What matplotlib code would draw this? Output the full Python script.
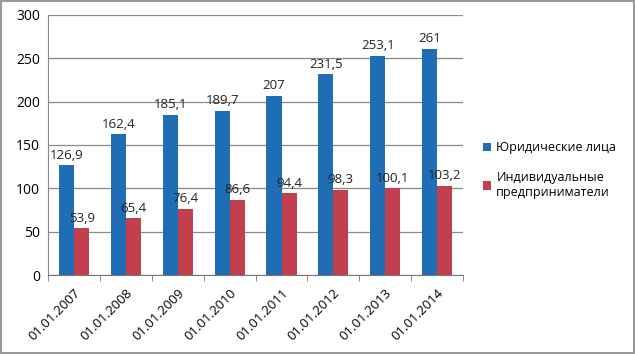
import numpy as np
import matplotlib
matplotlib.use("Agg")
import matplotlib.pyplot as plt
from matplotlib.patches import Rectangle

# ── Data ─────────────────────────────────────────────────────────────────────
dates = ["01.01.2007", "01.01.2008", "01.01.2009", "01.01.2010",
         "01.01.2011", "01.01.2012", "01.01.2013", "01.01.2014"]
legal = [126.9, 162.4, 185.1, 189.7, 207, 231.5, 253.1, 261]
individual = [53.9, 65.4, 76.4, 86.6, 94.4, 98.3, 100.1, 103.2]
legal_labels = ["126,9", "162,4", "185,1", "189,7", "207", "231,5", "253,1", "261"]
indiv_labels = ["53,9", "65,4", "76,4", "86,6", "94,4", "98,3", "100,1", "103,2"]

BLUE = "#1f6db5"
RED = "#c2404e"

plt.rcParams["font.family"] = ["Open Sans", "DejaVu Sans"]

fig = plt.figure(figsize=(6.35, 3.54), dpi=100)
ax = fig.add_axes([0.076, 0.223, 0.653, 0.735])

x = np.arange(len(dates))
w = 0.29
b1 = ax.bar(x - w / 2, legal, w, color=BLUE, label="Юридические лица", zorder=3)
b2 = ax.bar(x + w / 2, individual, w, color=RED,
            label="Индивидуальные\nпредприниматели", zorder=3)

for xi, v, t in zip(x, legal, legal_labels):
    ax.text(xi - w / 2, v + 4, t, ha="center", va="bottom", fontsize=9.5,
            color="#222222", zorder=4)
for xi, v, t in zip(x, individual, indiv_labels):
    ax.text(xi + w / 2, v + 4, t, ha="center", va="bottom", fontsize=9.5,
            color="#222222", zorder=4)

ax.set_xlim(-0.5, len(dates) - 0.5)
ax.set_ylim(0, 300)
ax.set_yticks(range(0, 301, 50))
ax.yaxis.grid(True, color="#8a8a8a", linewidth=0.9, zorder=0)
ax.tick_params(axis="y", length=0, labelsize=10, pad=6)

# category labels in the middle, tick marks between categories
ax.set_xticks(x)
ax.set_xticklabels(dates, rotation=45, ha="right", rotation_mode="anchor",
                   fontsize=9.5)
ax.tick_params(axis="x", which="major", length=0, pad=8)
ax.set_xticks(np.arange(-0.5, len(dates), 1), minor=True)
ax.tick_params(axis="x", which="minor", length=4, color="#777777",
               direction="out")

for s in ["top", "right"]:
    ax.spines[s].set_visible(False)
ax.spines["left"].set_color("#888888")
ax.spines["bottom"].set_color("#777777")

fig.legend(handles=[b1, b2], loc="center left", bbox_to_anchor=(0.752, 0.52),
           frameon=False, fontsize=9, handlelength=0.7, handleheight=0.7,
           handletextpad=0.4, labelspacing=1.3, borderaxespad=0)

fig.patches.append(Rectangle((0.002, 0.003), 0.996, 0.994,
                             transform=fig.transFigure, fill=False,
                             edgecolor="#9a9a9a", linewidth=1.5))

fig.savefig("out.png", dpi=100)
